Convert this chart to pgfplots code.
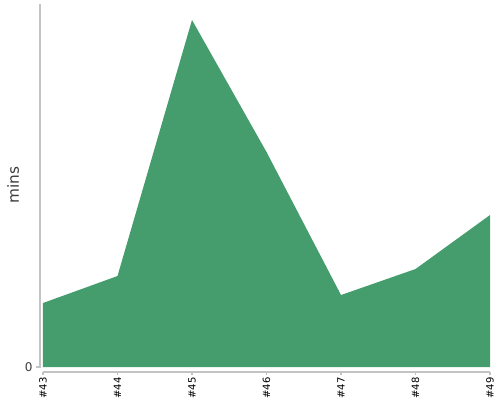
\documentclass[border=0pt]{standalone}
\usepackage{fontspec}
\setmainfont{DejaVu Sans}
\usepackage{pgfplots}
\pgfplotsset{compat=1.18}
\definecolor{areagreen}{RGB}{69,156,109}
\definecolor{axisgray}{RGB}{195,195,195}
\definecolor{labelgray}{RGB}{60,60,60}
\begin{document}
\begin{tikzpicture}
\begin{axis}[
  scale only axis,
  width=335.25pt, height=276pt,
  xmin=0, xmax=6, ymin=-5, ymax=363,
  axis lines=none,
  clip=false,
  xtick=\empty, ytick=\empty,
]
\addplot[fill=areagreen, draw=none] coordinates {
  (0,0) (0,64) (1,91) (2,347) (3,215) (4,72) (5,98) (6,152) (6,0)} -- cycle;
% axis lines
\draw[axisgray, line width=0.8pt] (axis cs:-0.04,363) -- (axis cs:-0.04,0) -- (axis cs:-0.1,0);
\draw[axisgray, line width=0.8pt] (axis cs:0,-5) -- (axis cs:6,-5);
\pgfplotsinvokeforeach{0,...,6}{
  \draw[axisgray, line width=0.8pt] (axis cs:#1,-5) -- (axis cs:#1,-8);
}
\node[anchor=east, text=labelgray, font=\fontsize{9}{10}\selectfont, inner sep=1pt] at (axis cs:-0.12,0) {0};
\pgfplotsinvokeforeach{0,...,6}{
  \node[rotate=90, anchor=east, font=\fontsize{7.5}{8}\selectfont, inner sep=1pt] at (axis cs:#1,-9) {\pgfmathparse{int(43+#1)}\#\pgfmathresult};
}
\node[rotate=90, text=labelgray, font=\fontsize{11.5}{13}\selectfont] at (axis cs:-0.40,182) {mins};
\coordinate (bl) at (axis cs:-0.577,-33);
\coordinate (tr) at (axis cs:6.134,367);
\end{axis}
\pgfresetboundingbox
\path (bl) rectangle (tr);
\end{tikzpicture}
\end{document}
